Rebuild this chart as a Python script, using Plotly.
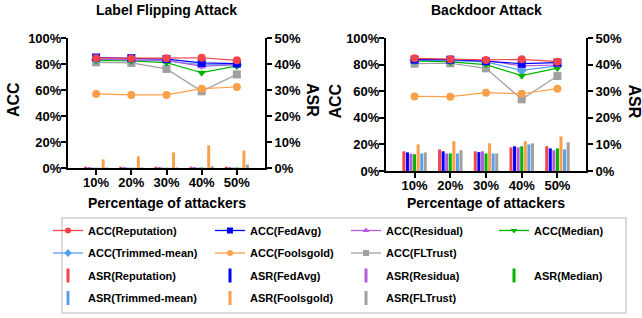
import plotly.graph_objects as go

# ---------------- data ----------------
categories = ["10%", "20%", "30%", "40%", "50%"]
methods = ["Reputation", "FedAvg", "Residual", "Median", "Trimmed-mean", "Foolsgold", "FLTrust"]

# Label flipping attack: ACC (%)
lf_acc_reputation = [84.5, 84.3, 84.5, 84.8, 82.8]
lf_acc_fedavg = [85.0, 84.5, 83.8, 80.8, 80.3]
lf_acc_residual = [83.8, 83.5, 82.8, 78.2, 79.5]
lf_acc_median = [82.8, 82.3, 81.0, 73.3, 78.5]
lf_acc_trimmed = [83.3, 83.0, 82.3, 79.5, 79.5]
lf_acc_foolsgold = [57.0, 56.2, 56.2, 61.0, 62.3]
lf_acc_fltrust = [81.3, 80.8, 76.2, 59.0, 72.0]
# Label flipping attack: ASR (%)
lf_asr_reputation = [0.5, 0.5, 0.5, 0.5, 0.5]
lf_asr_fedavg = [0.2, 0.2, 0.2, 0.2, 0.2]
lf_asr_residual = [0.15, 0.15, 0.15, 0.15, 0.15]
lf_asr_median = [0.1, 0.1, 0.1, 0.2, 0.2]
lf_asr_trimmed = [0.1, 0.1, 0.1, 0.1, 0.1]
lf_asr_foolsgold = [3.3, 4.5, 6.0, 8.7, 6.7]
lf_asr_fltrust = [0.2, 0.2, 0.2, 0.7, 1.3]

# Backdoor attack: ACC (%)
bd_acc_reputation = [84.7, 84.0, 83.5, 84.0, 82.2]
bd_acc_fedavg = [83.7, 83.7, 82.5, 80.7, 81.5]
bd_acc_residual = [84.2, 84.0, 83.2, 79.0, 79.7]
bd_acc_median = [82.7, 82.0, 80.0, 71.7, 77.4]
bd_acc_trimmed = [83.2, 83.0, 82.0, 75.7, 79.0]
bd_acc_foolsgold = [56.1, 55.9, 58.9, 58.1, 61.9]
bd_acc_fltrust = [80.7, 81.0, 77.2, 53.9, 71.4]
# Backdoor attack: ASR (%)
bd_asr_reputation = [7.4, 8.1, 7.4, 8.9, 9.3]
bd_asr_fedavg = [7.0, 7.4, 7.1, 9.3, 8.5]
bd_asr_residual = [6.5, 6.6, 7.4, 8.9, 7.8]
bd_asr_median = [6.3, 6.6, 6.6, 9.3, 8.5]
bd_asr_trimmed = [6.6, 6.6, 6.6, 10.0, 8.1]
bd_asr_foolsgold = [10.0, 11.2, 10.4, 11.2, 13.0]
bd_asr_fltrust = [7.0, 7.8, 6.6, 10.4, 10.8]

acc_ticks = [0, 20, 40, 60, 80, 100]
asr_ticks = [0, 10, 20, 30, 40, 50]

# ---------------- styling ----------------
colors = {"Reputation": "#F5434B", "FedAvg": "#0000FF", "Residual": "#B45CDC",
          "Median": "#00B400", "Trimmed-mean": "#5AA0F0", "Foolsgold": "#FBA04A",
          "FLTrust": "#A0A0A0"}
symbols = {"Reputation": "circle", "FedAvg": "square", "Residual": "triangle-up",
           "Median": "triangle-down", "Trimmed-mean": "diamond", "Foolsgold": "circle",
           "FLTrust": "square"}
line_draw_order = ["FLTrust", "Trimmed-mean", "Median", "Residual", "FedAvg", "Foolsgold", "Reputation"]
lf_bar_order = ["Reputation", "FedAvg", "Residual", "Median", "Trimmed-mean", "Foolsgold", "FLTrust"]
bd_bar_order = ["Reputation", "FedAvg", "Residual", "Median", "Foolsgold", "Trimmed-mean", "FLTrust"]

lf_acc = dict(zip(methods, [lf_acc_reputation, lf_acc_fedavg, lf_acc_residual, lf_acc_median,
                            lf_acc_trimmed, lf_acc_foolsgold, lf_acc_fltrust]))
lf_asr = dict(zip(methods, [lf_asr_reputation, lf_asr_fedavg, lf_asr_residual, lf_asr_median,
                            lf_asr_trimmed, lf_asr_foolsgold, lf_asr_fltrust]))
bd_acc = dict(zip(methods, [bd_acc_reputation, bd_acc_fedavg, bd_acc_residual, bd_acc_median,
                            bd_acc_trimmed, bd_acc_foolsgold, bd_acc_fltrust]))
bd_asr = dict(zip(methods, [bd_asr_reputation, bd_asr_fedavg, bd_asr_residual, bd_asr_median,
                            bd_asr_trimmed, bd_asr_foolsgold, bd_asr_fltrust]))

W, H = 642, 318
FONT = "Liberation Sans, Arial, sans-serif"


def fx(x):
    return x / W


def fy(y):
    return 1 - y / H


xpos = list(range(len(categories)))
fig = go.Figure()

panels = [
    dict(title="Label Flipping Attack", acc=lf_acc, asr=lf_asr, order=lf_bar_order,
         xa="x", ya="y", ya2="y2", x0=68, x1=265, y0=38, y1=168, acc_off=54, asr_off=47),
    dict(title="Backdoor Attack", acc=bd_acc, asr=bd_asr, order=bd_bar_order,
         xa="x2", ya="y3", ya2="y4", x0=386, x1=586, y0=38, y1=171, acc_off=51, asr_off=48),
]

for p in panels:
    for m in line_draw_order:
        fig.add_trace(go.Scatter(
            x=xpos, y=p["acc"][m], xaxis=p["xa"], yaxis=p["ya"], mode="lines+markers",
            line=dict(color=colors[m], width=1.2),
            marker=dict(symbol=symbols[m], size=8, color=colors[m]),
            showlegend=False, hoverinfo="skip"))
    for m in p["order"]:
        fig.add_trace(go.Bar(
            x=xpos, y=p["asr"][m], xaxis=p["xa"], yaxis=p["ya2"],
            marker=dict(color=colors[m], line=dict(width=0)),
            showlegend=False, hoverinfo="skip", offsetgroup=m))

# ---------------- legends (dummy entries) ----------------
columns = [
    ("legend", [("ACC", "Reputation"), ("ACC", "Trimmed-mean"), ("ASR", "Reputation"), ("ASR", "Trimmed-mean")]),
    ("legend2", [("ACC", "FedAvg"), ("ACC", "Foolsgold"), ("ASR", "FedAvg"), ("ASR", "Foolsgold")]),
    ("legend3", [("ACC", "Residual"), ("ACC", "FLTrust"), ("ASR", "Residua"), ("ASR", "FLTrust")]),
    ("legend4", [("ACC", "Median"), ("ASR", "Median")]),
]
rank = 0
for lg, items in columns:
    for kind, name in items:
        key = "Residual" if name == "Residua" else name
        rank += 1
        if kind == "ACC":
            fig.add_trace(go.Scatter(
                x=[None], y=[None], mode="lines+markers", name=f"ACC({name})",
                line=dict(color=colors[key], width=1.3),
                marker=dict(symbol=symbols[key], size=6, color=colors[key]),
                legend=lg, legendgroup=f"g{rank}", legendrank=rank, showlegend=True))
        else:
            fig.add_trace(go.Scatter(
                x=[None], y=[None], mode="markers", name=f"ASR({name})",
                marker=dict(symbol="line-ns", size=10, color=colors[key],
                            line=dict(color=colors[key], width=3)),
                legend=lg, legendgroup=f"g{rank}", legendrank=rank, showlegend=True))

leg_font = dict(family=FONT, size=11, color="black", weight="bold")
leg_common = dict(orientation="v", xanchor="left", yanchor="top", bgcolor="rgba(0,0,0,0)",
                  borderwidth=0, font=leg_font, traceorder="grouped", itemwidth=30)
col_x = [48, 210, 346, 494]
legend_top = 216

# ---------------- axes ----------------
tickfont = dict(family=FONT, size=13, color="black", weight="bold")
axis_common = dict(showline=True, linecolor="black", linewidth=2, ticks="outside",
                   ticklen=5, tickwidth=2, tickcolor="black", showgrid=False,
                   zeroline=False, tickfont=tickfont, fixedrange=True, automargin=False)

layout = dict(
    width=W, height=H, margin=dict(l=0, r=0, t=0, b=0, pad=0, autoexpand=False),
    paper_bgcolor="white", plot_bgcolor="white",
    barmode="group", bargap=0.3, bargroupgap=0.15,
    font=dict(family=FONT, color="black"),
    hovermode=False,
    legend=dict(x=fx(col_x[0]), y=fy(legend_top), tracegroupgap=3.5, **leg_common),
    legend2=dict(x=fx(col_x[1]), y=fy(legend_top), tracegroupgap=3.5, **leg_common),
    legend3=dict(x=fx(col_x[2]), y=fy(legend_top), tracegroupgap=3.5, **leg_common),
    legend4=dict(x=fx(col_x[3]), y=fy(legend_top), tracegroupgap=26, **leg_common),
)

annotations = []
for i, p in enumerate(panels):
    xk = "xaxis" if i == 0 else "xaxis2"
    yk = "yaxis" if i == 0 else "yaxis3"
    y2k = "yaxis2" if i == 0 else "yaxis4"
    ydom = [fy(p["y1"]), fy(p["y0"])]
    layout[xk] = dict(domain=[fx(p["x0"]), fx(p["x1"])], anchor=p["ya"], range=[-0.8, 4.8],
                      tickmode="array", tickvals=xpos, ticktext=categories,
                      ticklabelstandoff=-4, **axis_common)
    layout[yk] = dict(domain=ydom, anchor=p["xa"], range=[0, 100], tickmode="array",
                      tickvals=acc_ticks, ticktext=[f"{v}%" for v in acc_ticks],
                      ticklabelstandoff=-3, **axis_common)
    layout[y2k] = dict(overlaying=p["ya"], side="right", anchor=p["xa"], range=[0, 50],
                       tickmode="array", tickvals=asr_ticks,
                       ticktext=[f"{v}%" for v in asr_ticks], **axis_common)
    cx = (p["x0"] + p["x1"]) / 2
    cy = (p["y0"] + p["y1"]) / 2
    annotations.append(dict(text=p["title"], x=fx(cx), y=fy(10), xref="paper", yref="paper",
                            showarrow=False, xanchor="center", yanchor="middle",
                            font=dict(family=FONT, size=14, color="black", weight="bold")))
    annotations.append(dict(text="Percentage of attackers", x=fx(cx), y=fy(203), xref="paper",
                            yref="paper", showarrow=False, xanchor="center", yanchor="middle",
                            font=dict(family=FONT, size=14, color="black", weight="bold")))
    annotations.append(dict(text="ACC", x=fx(p["x0"] - p["acc_off"]), y=fy(cy - 3), xref="paper",
                            yref="paper", showarrow=False, textangle=-90, xanchor="center",
                            yanchor="middle",
                            font=dict(family=FONT, size=16, color="black", weight="bold")))
    annotations.append(dict(text="ASR", x=fx(p["x1"] + p["asr_off"]), y=fy(cy - 3), xref="paper",
                            yref="paper", showarrow=False, textangle=90, xanchor="center",
                            yanchor="middle",
                            font=dict(family=FONT, size=16, color="black", weight="bold")))
layout["annotations"] = annotations
layout["shapes"] = [dict(type="rect", xref="paper", yref="paper", x0=fx(62), x1=fx(626),
                         y0=fy(313), y1=fy(218), line=dict(color="#CFCFCF", width=1.5),
                         fillcolor="rgba(0,0,0,0)")]

fig.update_layout(**layout)
fig.write_html("out.html", config={"displayModeBar": False, "staticPlot": True},
               post_script="document.body.style.margin='0px';")
